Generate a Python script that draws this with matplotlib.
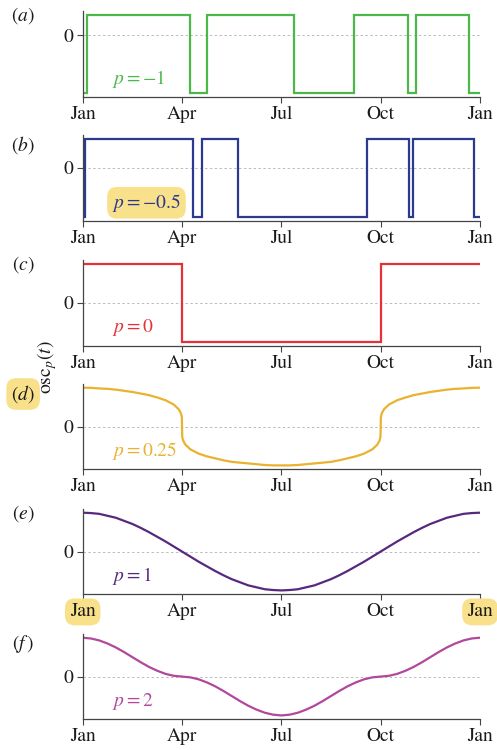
import numpy as np
import matplotlib
matplotlib.use('Agg')
import matplotlib.pyplot as plt

# trục thời gian: tháng 0..12 (Jan -> Jan)
TICK_POS = [0, 3, 6, 9, 12]
TICK_LABELS = ['Jan', 'Apr', 'Jul', 'Oct', 'Jan']

# (a) p = -1 : sóng vuông, thời điểm chuyển mức (tháng)
A_EDGES = [0, 0.14, 3.24, 3.745, 6.39, 8.2, 9.84, 10.06, 11.67, 12]
A_LEVEL = [-1, 0.35, -1, 0.35, -1, 0.35, -1, 0.35, -1]

# (b) p = -0.5
B_EDGES = [0, 0.06, 3.34, 3.61, 4.69, 8.6, 9.87, 9.99, 11.82, 12]
B_LEVEL = [-1, 0.58, -1, 0.58, -1, 0.58, -1, 0.58, -1]

# (c) p = 0
C_EDGES = [0, 3, 9, 12]
C_LEVEL = [1, -1, 1]

# (d) p = 0.25 (dày hơn quanh Apr / Oct)
D_T = [0, 0.25, 0.5, 0.75, 1, 1.25, 1.5, 1.75, 2, 2.25, 2.5, 2.75,
       2.9, 2.97, 2.995, 3.005, 3.03, 3.1,
       3.25, 3.5, 3.75, 4, 4.25, 4.5, 4.75, 5, 5.25, 5.5, 5.75, 6,
       6.25, 6.5, 6.75, 7, 7.25, 7.5, 7.75, 8, 8.25, 8.5, 8.75,
       8.9, 8.97, 8.995, 9.005, 9.03, 9.1,
       9.25, 9.5, 9.75, 10, 10.25, 10.5, 10.75, 11, 11.25, 11.5, 11.75, 12]
D_Y = [1.00, 0.995, 0.98, 0.97, 0.95, 0.92, 0.89, 0.85, 0.81, 0.75, 0.68, 0.57,
       0.45, 0.34, 0.24, -0.24, -0.34, -0.45,
       -0.57, -0.68, -0.75, -0.80, -0.85, -0.89, -0.91, -0.93, -0.95, -0.97, -0.98, -0.98,
       -0.98, -0.97, -0.95, -0.93, -0.91, -0.89, -0.85, -0.80, -0.75, -0.68, -0.57,
       -0.45, -0.34, -0.24, 0.24, 0.34, 0.45,
       0.57, 0.68, 0.75, 0.81, 0.85, 0.89, 0.92, 0.95, 0.97, 0.98, 0.995, 1.00]

# (e) p = 1 và (f) p = 2, đọc mỗi 1/4 tháng
EF_T = np.arange(0, 12.001, 0.25)
E_Y = [1.00, 0.99, 0.97, 0.92, 0.87, 0.79, 0.71, 0.61, 0.50, 0.38, 0.26, 0.13, 0.00,
       -0.13, -0.26, -0.38, -0.50, -0.61, -0.71, -0.79, -0.87, -0.92, -0.97, -0.99, -1.00,
       -0.99, -0.97, -0.92, -0.87, -0.79, -0.71, -0.61, -0.50, -0.38, -0.26, -0.13, 0.00,
       0.13, 0.26, 0.38, 0.50, 0.61, 0.71, 0.79, 0.87, 0.92, 0.97, 0.99, 1.00]
F_Y = [1.00, 0.98, 0.93, 0.85, 0.75, 0.63, 0.50, 0.37, 0.25, 0.15, 0.07, 0.02, 0.00,
       -0.02, -0.07, -0.15, -0.25, -0.37, -0.50, -0.63, -0.75, -0.85, -0.93, -0.98, -1.00,
       -0.98, -0.93, -0.85, -0.75, -0.63, -0.50, -0.37, -0.25, -0.15, -0.07, -0.02, 0.00,
       0.02, 0.07, 0.15, 0.25, 0.37, 0.50, 0.63, 0.75, 0.85, 0.93, 0.98, 1.00]

PANELS = ['(a)', '(b)', '(c)', '(d)', '(e)', r'(f\,)']
P_TEXT = ['$p=-1$', '$p=-0.5$', '$p=0$', '$p=0.25$', '$p=1$', '$p=2$']
COLORS = ['#4db84a', '#2b3a8f', '#e53138', '#e9b22f', '#56297f', '#b1489c']

HL = '#f9e08a'
INK = '#1a1a1a'

plt.rcParams['font.family'] = ['STIXGeneral', 'Liberation Serif', 'DejaVu Serif']
plt.rcParams['mathtext.fontset'] = 'stix'

fig = plt.figure(figsize=(4.97, 7.5), dpi=100)

bottoms = [0.8711, 0.7057, 0.5391, 0.3743, 0.2076, 0.0409]
label_y = [0.95, 0.88, 0.95, 0.88, 0.95, 0.88]
hl_box = dict(boxstyle='round,pad=0.25,rounding_size=0.5', fc=HL, ec='none')

for i in range(6):
    ax = fig.add_axes([0.1664, bottoms[i], 0.7994, 0.114])
    c = COLORS[i]
    if i == 0:
        ax.stairs(A_LEVEL, A_EDGES, baseline=None, color=c, lw=1.6)
        ax.plot([0, 12], [min(A_LEVEL), max(A_LEVEL)], alpha=0)
    elif i == 1:
        ax.stairs(B_LEVEL, B_EDGES, baseline=None, color=c, lw=1.6)
        ax.plot([0, 12], [min(B_LEVEL), max(B_LEVEL)], alpha=0)
    elif i == 2:
        ax.stairs(C_LEVEL, C_EDGES, baseline=None, color=c, lw=1.6)
        ax.plot([0, 12], [min(C_LEVEL), max(C_LEVEL)], alpha=0)
    elif i == 3:
        ax.plot(D_T, D_Y, color=c, lw=1.6)
    elif i == 4:
        ax.plot(EF_T, E_Y, color=c, lw=1.6)
    else:
        ax.plot(EF_T, F_Y, color=c, lw=1.6)

    ax.axhline(0, color='#bbbbbb', ls=(0, (2.5, 2.5)), lw=0.7, zorder=0)
    ax.set_xlim(0, 12)
    ax.margins(y=0.05)
    ax.set_xticks(TICK_POS)
    ax.set_xticklabels(TICK_LABELS)
    ax.set_yticks([0])
    ax.set_yticklabels(['0'])
    for s in ['top', 'right']:
        ax.spines[s].set_visible(False)
    for s in ['left', 'bottom']:
        ax.spines[s].set_color('#444444')
        ax.spines[s].set_linewidth(0.9)
    ax.tick_params(direction='out', length=4, width=0.8, color='#444444',
                   labelsize=14, pad=2.5, labelcolor=INK)

    ptxt = ax.text(0.074, 0.21, P_TEXT[i], transform=ax.transAxes, color=c,
                   fontsize=14, ha='left', va='center')
    lab = ax.text(-0.15, label_y[i], '$%s$' % PANELS[i], transform=ax.transAxes,
                  fontsize=14, ha='center', va='center', color=INK)
    if i == 1:
        ptxt.set_bbox(hl_box)
    if i == 3:
        lab.set_bbox(hl_box)
    if i == 4:
        tl = ax.get_xticklabels()
        for t in (tl[0], tl[-1]):
            t.set_bbox(hl_box)

fig.text(0.0946, 0.51, r'$\mathrm{osc}_p(t)$', rotation=90, fontsize=14,
         ha='center', va='center', color=INK)

fig.savefig('out.png', dpi=100)
